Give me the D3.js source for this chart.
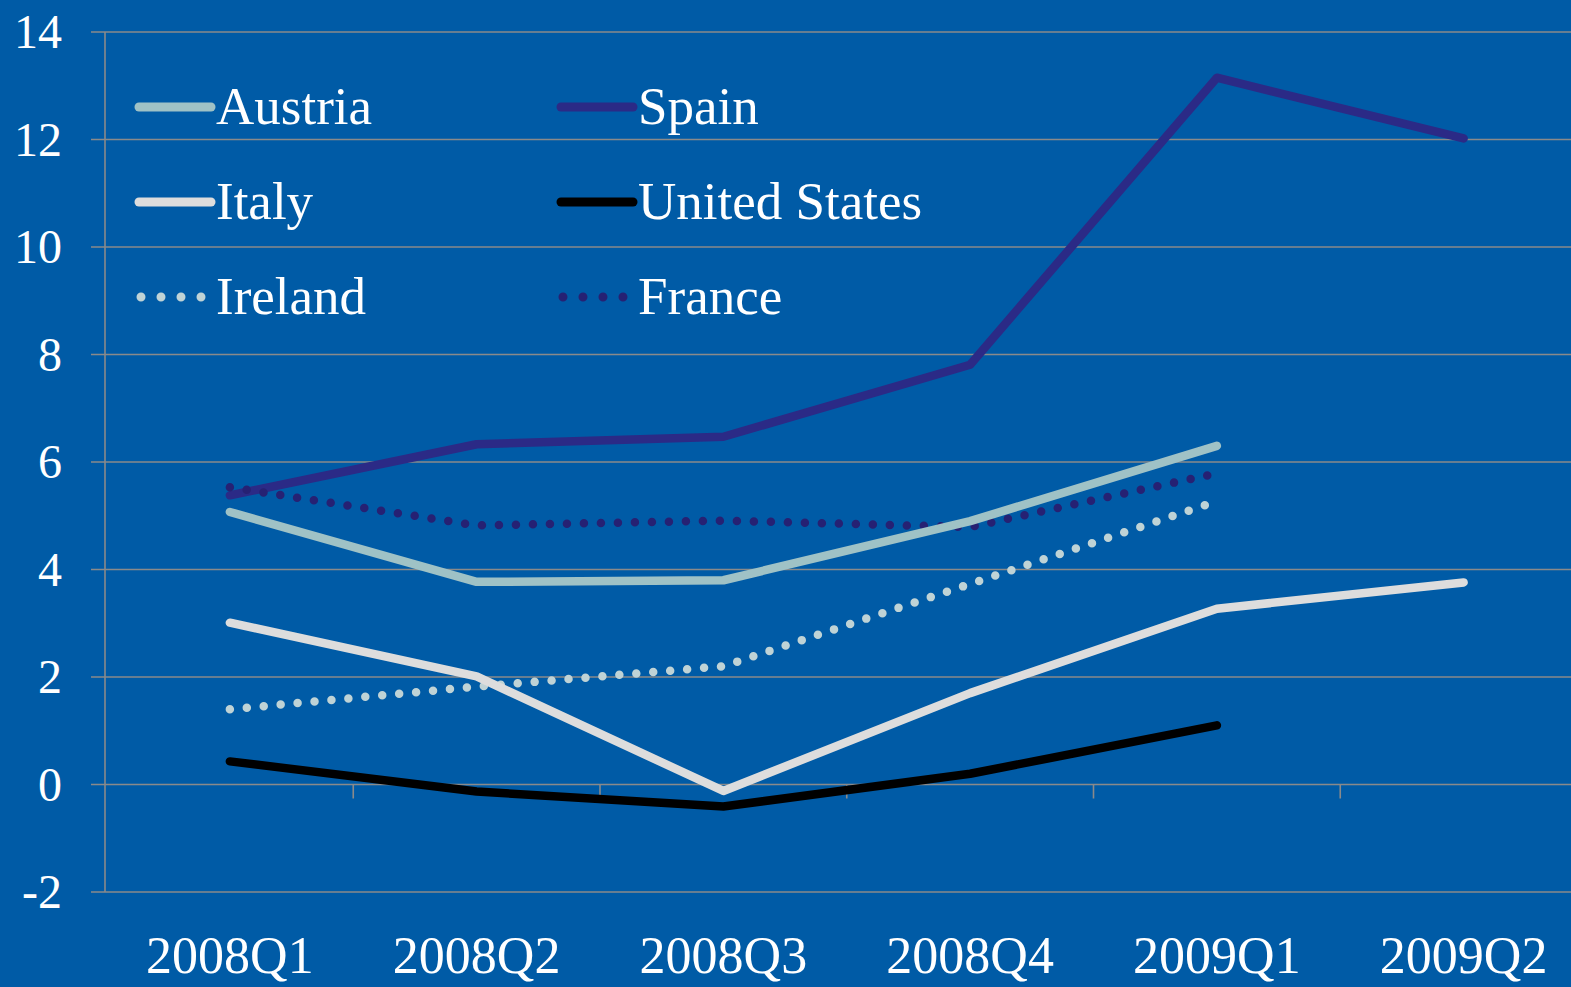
<!DOCTYPE html>
<html>
<head>
<meta charset="utf-8">
<script src="https://cdn.jsdelivr.net/npm/d3@7"></script>
<style>
html,body{margin:0;padding:0;background:#005ba6;}
svg{display:block;}
text{font-family:"Liberation Serif","DejaVu Serif",serif;fill:#ffffff;}
</style>
</head>
<body>
<svg id="chart" width="1571" height="987"></svg>
<script>
const categories = ["2008Q1","2008Q2","2008Q3","2008Q4","2009Q1","2009Q2"];
const yTicks = [-2,0,2,4,6,8,10,12,14];
const austria = [5.07, 3.77, 3.80, 4.90, 6.30, null];
const spain = [5.38, 6.33, 6.47, 7.81, 13.15, 12.02];
const italy = [3.01, 2.01, -0.12, 1.70, 3.27, 3.76];
const unitedStates = [0.43, -0.13, -0.41, 0.20, 1.10, null];
const ireland = [1.40, 1.82, 2.20, 3.73, 5.27, null];
const france = [5.53, 4.82, 4.91, 4.79, 5.79, null];

const series = [
  {name:"Austria", values:austria, color:"#9fc2c6", dotted:false},
  {name:"Italy", values:italy, color:"#dddddd", dotted:false},
  {name:"Ireland", values:ireland, color:"#bfd3d6", dotted:true},
  {name:"Spain", values:spain, color:"#2b2a86", dotted:false},
  {name:"United States", values:unitedStates, color:"#000000", dotted:false},
  {name:"France", values:france, color:"#262173", dotted:true}
];
const drawOrder = ["Spain","France","Austria","Ireland","Italy","United States"];

const svg = d3.select("#chart");
svg.append("rect").attr("width",1571).attr("height",987).attr("fill","#005ba6");

const x = d3.scaleBand().domain(categories).range([106.5, 1587]);
const y = d3.scaleLinear().domain([-2,14]).range([892, 32]);
const cx = c => x(c) + x.bandwidth()/2;
const gridColor = "#8a8a8a";

// gridlines
svg.append("g").selectAll("line").data(yTicks).join("line")
  .attr("x1",91).attr("x2",1571)
  .attr("y1",d=>y(d)).attr("y2",d=>y(d))
  .attr("stroke",gridColor).attr("stroke-width",1.6);

// y-axis line
svg.append("line").attr("x1",105).attr("x2",105).attr("y1",y(14)).attr("y2",y(-2))
  .attr("stroke",gridColor).attr("stroke-width",1.6);

// x ticks at zero line (band boundaries)
svg.append("g").selectAll("line").data(categories.slice(1)).join("line")
  .attr("x1",d=>x(d)).attr("x2",d=>x(d))
  .attr("y1",y(0)).attr("y2",y(0)+14)
  .attr("stroke",gridColor).attr("stroke-width",1.6);

// y tick labels
svg.append("g").selectAll("text").data(yTicks).join("text")
  .attr("x",62).attr("y",d=>y(d)+16)
  .attr("text-anchor","end").attr("font-size",48)
  .text(d=>d);

// x tick labels
svg.append("g").selectAll("text").data(categories).join("text")
  .attr("x",d=>cx(d)).attr("y",973)
  .attr("text-anchor","middle").attr("font-size",52)
  .text(d=>d);

// lines
const line = d3.line()
  .defined(d=>d.v!==null)
  .x(d=>cx(d.c)).y(d=>y(d.v));

drawOrder.forEach(n=>{
  const s = series.find(t=>t.name===n);
  const pts = categories.map((c,i)=>({c, v:s.values[i]}));
  const p = svg.append("path").datum(pts)
    .attr("d",line).attr("fill","none")
    .attr("stroke",s.color).attr("stroke-width",8.5)
    .attr("stroke-linejoin","round").attr("stroke-linecap","round");
  if(s.dotted) p.attr("stroke-dasharray","0,17").attr("stroke-width",8.5);
});

// legend
const legCols = [139, 561];
const legRows = [107, 202, 297];
series.forEach((s,i)=>{
  const col = Math.floor(i/3), row = i%3;
  const lx = legCols[col], ly = legRows[row];
  const l = svg.append("line")
    .attr("x1",lx).attr("x2",lx+72).attr("y1",ly).attr("y2",ly)
    .attr("stroke",s.color).attr("stroke-width",9)
    .attr("stroke-linecap","round");
  if(s.dotted) l.attr("x1",lx+2).attr("x2",lx+66).attr("stroke-dasharray","0,20");
  svg.append("text").attr("x",lx+77).attr("y",ly+17)
    .attr("font-size",53).text(s.name);
});
</script>
</body>
</html>
